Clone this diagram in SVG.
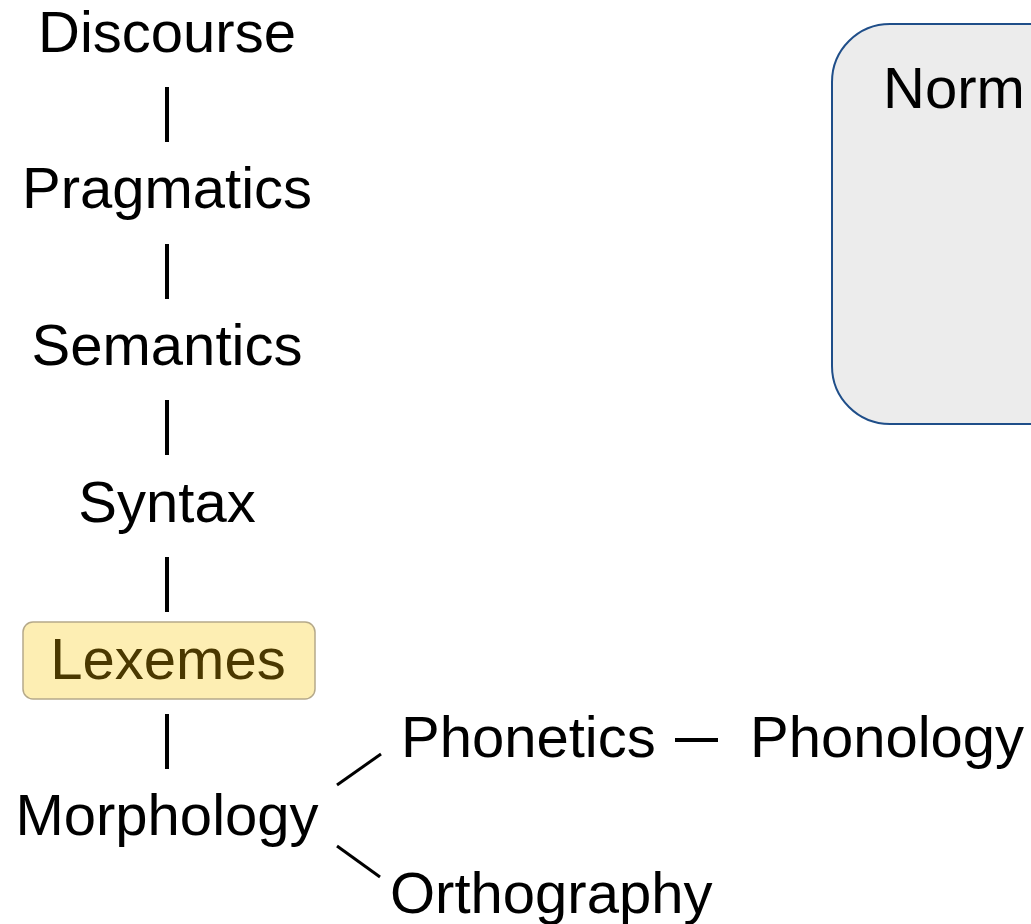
<svg xmlns="http://www.w3.org/2000/svg" width="1031" height="924" viewBox="0 0 1031 924">
  <style>
    .lbl { font-family: "Liberation Sans", Arial, sans-serif; font-size: 58px; fill: #000; }
    .mid { text-anchor: middle; }
    .link { stroke: #000; stroke-width: 4; fill: none; }
    .diag { stroke: #000; stroke-width: 3; fill: none; }
  </style>
  <rect width="1031" height="924" fill="#fff"/>

  <!-- panel on the right -->
  <g id="norm">
    <rect x="832" y="24" width="260" height="400" rx="58" fill="#ececec" stroke="#1f4e89" stroke-width="2"/>
    <text class="lbl" x="883" y="108">Norm</text>
  </g>

  <!-- connectors -->
  <g id="connectors">
    <line class="link" x1="167" y1="87" x2="167" y2="142"/>
    <line class="link" x1="167" y1="244" x2="167" y2="299"/>
    <line class="link" x1="167" y1="400" x2="167" y2="455"/>
    <line class="link" x1="167" y1="557" x2="167" y2="612"/>
    <line class="link" x1="167" y1="714" x2="167" y2="769"/>
    <line class="diag" x1="337" y1="785" x2="381" y2="754"/>
    <line class="diag" x1="337" y1="846" x2="380" y2="877"/>
    <line class="link" x1="675" y1="740" x2="718" y2="740"/>
  </g>

  <g id="discourse"><text class="lbl mid" x="167" y="52">Discourse</text></g>
  <g id="pragmatics"><text class="lbl mid" x="167" y="208">Pragmatics</text></g>
  <g id="semantics"><text class="lbl mid" x="167" y="365">Semantics</text></g>
  <g id="syntax"><text class="lbl mid" x="167" y="522">Syntax</text></g>
  <g id="lexemes">
    <rect x="23" y="622" width="292" height="77" rx="10" fill="#fdeeb3" stroke="#b5a98a" stroke-width="1.5"/>
    <text class="lbl mid" x="168" y="679" style="fill:#4a3800">Lexemes</text>
  </g>
  <g id="morphology"><text class="lbl mid" x="167" y="835">Morphology</text></g>
  <g id="phonetics"><text class="lbl" x="401" y="757">Phonetics</text></g>
  <g id="phonology"><text class="lbl" x="750" y="757">Phonology</text></g>
  <g id="orthography"><text class="lbl" x="390" y="913">Orthography</text></g>
</svg>
